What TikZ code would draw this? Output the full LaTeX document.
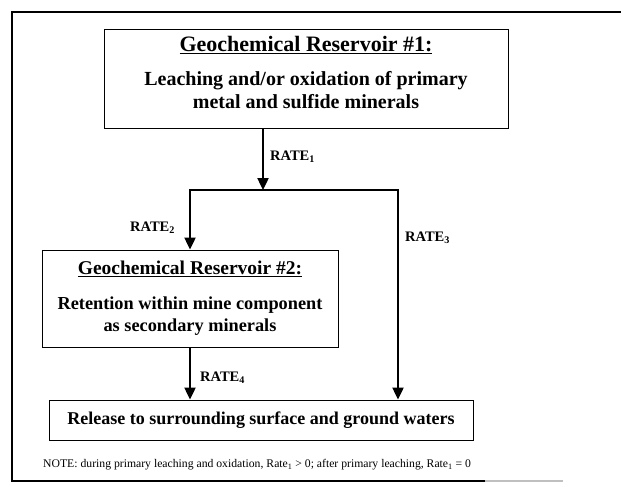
\documentclass[tikz,border=0pt]{standalone}
\usepackage{fontspec}
\setmainfont{Liberation Serif}
\usetikzlibrary{arrows.meta}

\newcommand{\restitle}[2][22]{{\fontsize{#1}{23}\selectfont\underline{#2}}}

\tikzset{
  resbox/.style={draw, line width=1pt, align=center, inner sep=0pt,
    font=\bfseries\fontsize{20}{23}\selectfont},
  flow/.style={line width=2.4pt, -{Triangle[length=12pt,width=11pt]}},
  ratelbl/.style={anchor=west, inner sep=0pt, font=\bfseries\fontsize{14.5}{16}\selectfont},
}

\begin{document}
\begin{tikzpicture}[x=1pt, y=-1pt]
\useasboundingbox (0,0) rectangle (621,487);

% outer frame
\draw[line width=2pt] (621,12) -- (12,12) -- (12,481) -- (485,481);
\draw[line width=2pt, gray!50] (485,481) -- (563,481);

% reservoirs
\node[resbox, minimum width=404pt, minimum height=98pt, text depth=13pt] (res1) at (306,79)
  {\restitle{Geochemical Reservoir \#1:}\\[11pt]
   Leaching and/or oxidation of primary\\ metal and sulfide minerals};
\node[resbox, minimum width=296pt, minimum height=97pt,
  font=\bfseries\fontsize{18.3}{22}\selectfont] (res2) at (190,298.5)
  {\restitle[19.5]{Geochemical Reservoir \#2:}\\[13pt]
   Retention within mine component\\ as secondary minerals};
\node[resbox, minimum width=424pt, minimum height=40pt,
  font=\bfseries\fontsize{18}{22}\selectfont] (release) at (261,420)
  {Release to surrounding surface and ground waters};

\node[anchor=west, inner sep=0pt, font=\fontsize{11.7}{14}\selectfont] (note) at (43,465)
  {NOTE: during primary leaching and oxidation, Rate\textsubscript{1} > 0; after primary leaching, Rate\textsubscript{1} = 0};

% branch points
\coordinate (split) at (263,190);
\coordinate (right) at (398,190);

\draw[flow] (res1.south -| split) -- (split);
\draw[flow] (split) -| (res2.north);
\draw[flow] (split) -| (release.north -| right);
\draw[flow] (res2.south) -- (release.north -| res2.south);

% rates
\node[ratelbl] (rate1) at (270,157) {RATE\textsubscript{1}};
\node[ratelbl] (rate2) at (130,228) {RATE\textsubscript{2}};
\node[ratelbl] (rate3) at (405,238) {RATE\textsubscript{3}};
\node[ratelbl] (rate4) at (200,378) {RATE\textsubscript{4}};
\end{tikzpicture}
\end{document}
